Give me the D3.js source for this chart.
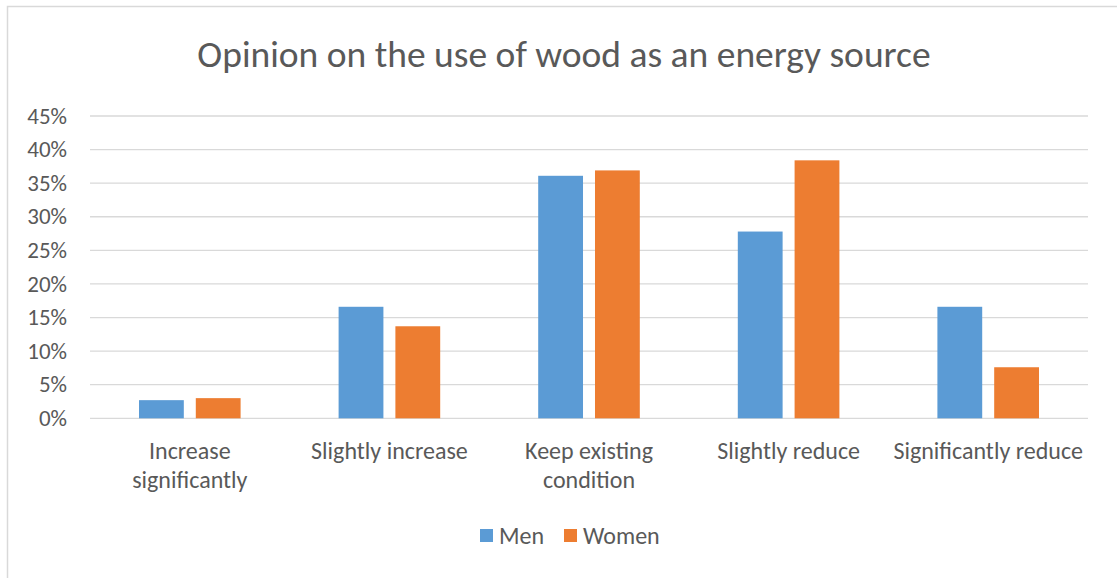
<!DOCTYPE html>
<html>
<head>
<meta charset="utf-8">
<script src="https://cdn.jsdelivr.net/npm/d3@7"></script>
<style>
  body { margin: 0; background: #fff; }
  svg { display: block; }
  text { font-family: Carlito, Lato, "Open Sans", sans-serif; fill: #595959; }
</style>
</head>
<body>
<svg width="1117" height="578"></svg>
<script>
const title = 'Opinion on the use of wood as an energy source';
const categories = [
  ['Increase', 'significantly'],
  ['Slightly increase'],
  ['Keep existing', 'condition'],
  ['Slightly reduce'],
  ['Significantly reduce']
];
const series = ['Men', 'Women'];
const men = [2.7, 16.6, 36.1, 27.8, 16.6];
const women = [3.0, 13.7, 36.9, 38.4, 7.6];
const yTicks = [0, 5, 10, 15, 20, 25, 30, 35, 40, 45];
const colors = ['#5b9bd5', '#ed7d31'];

const svg = d3.select('svg');

// chart frame (only left/top edge visible in the picture)
svg.append('rect')
  .attr('x', 7.5).attr('y', 6.5)
  .attr('width', 1130).attr('height', 600)
  .attr('fill', 'none').attr('stroke', '#d9d9d9').attr('stroke-width', 1.5);

svg.append('text')
  .attr('x', 564).attr('y', 67)
  .attr('text-anchor', 'middle')
  .attr('font-size', 37.5)
  .text(title);

const left = 90, right = 1088;
const x0 = d3.scaleBand().domain(d3.range(categories.length)).range([left, right]);
const bw = x0.bandwidth();
const x1 = d3.scaleBand().domain(series).range([0.2455 * bw, 0.7545 * bw]).paddingInner(0.211);
const y = d3.scaleLinear().domain([0, 45]).range([418.3, 116]);

// gridlines
svg.append('g')
  .selectAll('line')
  .data(yTicks)
  .enter().append('line')
    .attr('x1', left).attr('x2', right)
    .attr('y1', d => y(d)).attr('y2', d => y(d))
    .attr('stroke', '#d9d9d9').attr('stroke-width', 1.3);

// y labels
svg.append('g')
  .selectAll('text')
  .data(yTicks)
  .enter().append('text')
    .attr('x', 67).attr('y', d => y(d))
    .attr('dy', '0.33em')
    .attr('text-anchor', 'end')
    .attr('font-size', 23)
    .text(d => d + '%');

// bars
const rows = categories.map((c, i) => ({ i: i, vals: [men[i], women[i]] }));
const grp = svg.append('g')
  .selectAll('g')
  .data(rows)
  .enter().append('g')
    .attr('transform', d => 'translate(' + x0(d.i) + ',0)');
grp.selectAll('rect')
  .data(d => d.vals.map((v, k) => ({ s: series[k], v: v, k: k })))
  .enter().append('rect')
    .attr('x', d => x1(d.s))
    .attr('width', x1.bandwidth())
    .attr('y', d => y(d.v))
    .attr('height', d => y(0) - y(d.v))
    .attr('fill', d => colors[d.k]);

// category labels
const cat = svg.append('g')
  .selectAll('text')
  .data(categories)
  .enter().append('text')
    .attr('text-anchor', 'middle')
    .attr('font-size', 24)
    .attr('transform', (d, i) => 'translate(' + (x0(i) + bw / 2) + ',459)');
cat.selectAll('tspan')
  .data(d => d)
  .enter().append('tspan')
    .attr('x', 0)
    .attr('y', (d, i) => i * 29)
    .text(d => d);

// legend
const legX = [480, 564];
const leg = svg.append('g')
  .selectAll('g')
  .data(series)
  .enter().append('g')
    .attr('transform', (d, i) => 'translate(' + legX[i] + ',529)');
leg.append('rect')
  .attr('width', 13).attr('height', 13)
  .attr('fill', (d, i) => colors[i]);
leg.append('text')
  .attr('x', 19).attr('y', 15)
  .attr('font-size', 24)
  .text(d => d);
</script>
</body>
</html>
